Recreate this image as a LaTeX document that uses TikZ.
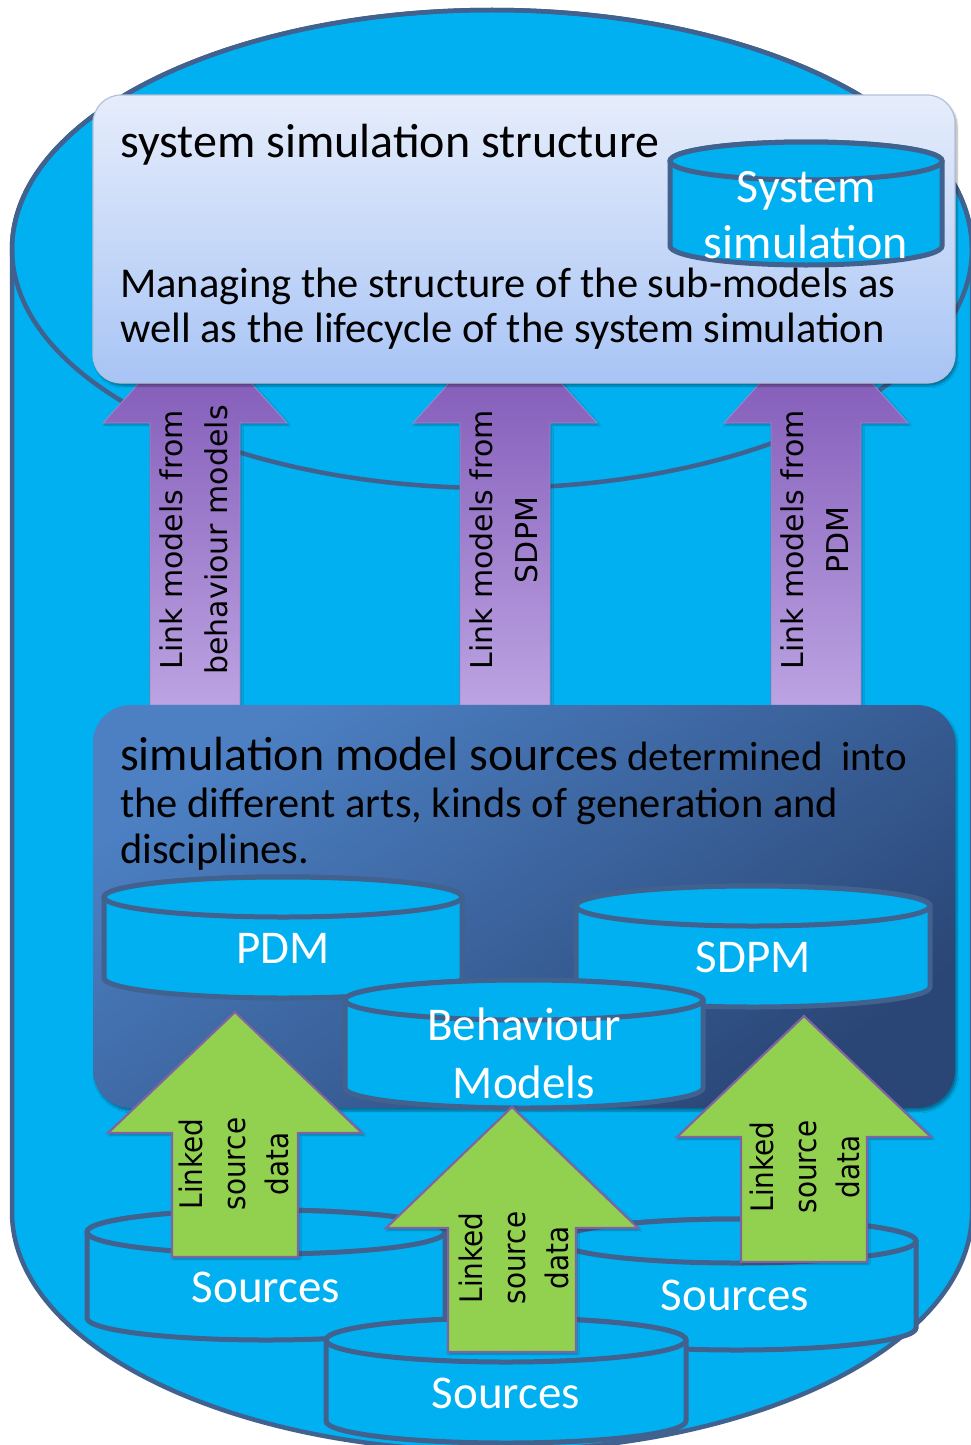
\documentclass[tikz,border=0pt]{standalone}
\usepackage{fontspec}
\setmainfont{Carlito}
\newfontfamily\labelfont{DejaVu Sans}
\newfontfamily\narrowlabelfont[FakeStretch=0.9]{DejaVu Sans}
\usetikzlibrary{shadows.blur}

\definecolor{cylfill}{HTML}{00B0F0}
\definecolor{cyledge}{HTML}{41618F}
\definecolor{boxtop}{HTML}{E6EDFB}
\definecolor{boxbot}{HTML}{A8C4F5}
\definecolor{boxedge}{HTML}{B4C1D9}
\definecolor{darktop}{HTML}{4C80C3}
\definecolor{darkbot}{HTML}{2A4676}
\definecolor{purtop}{HTML}{7B52B3}
\definecolor{purbot}{HTML}{BCA3E2}
\definecolor{arrowgreen}{HTML}{92D050}
\definecolor{greenedge}{HTML}{8064A2}

\tikzset{
  drum/.style={fill=cylfill, draw=cyledge, line width=5pt},
  drumtext/.style={text=white, font=\fontsize{47}{56}\selectfont, anchor=base, inner sep=0pt},
  softshadow/.style={blur shadow={shadow xshift=2pt, shadow yshift=-3pt, shadow blur steps=6, shadow opacity=35}},
  purplearrow/.style={top color=purtop, bottom color=purbot, draw=purtop!70!white, line width=0.8pt,
    blur shadow={shadow xshift=1.5pt, shadow yshift=-2pt, shadow blur steps=4, shadow opacity=30}},
  greenarrow/.style={fill=arrowgreen, draw=greenedge, line width=2.2pt,
    blur shadow={shadow xshift=1.5pt, shadow yshift=-2pt, shadow blur steps=4, shadow opacity=30}},
  purplelabel/.style={rotate=90, align=center, inner sep=0pt, font=\labelfont\fontsize{30}{45}\selectfont},
  greenlabel/.style={rotate=90, align=center, inner sep=0pt, font=\narrowlabelfont\fontsize{31}{43}\selectfont},
  bodytext/.style={anchor=base west, inner sep=0pt, font=\fontsize{42.5}{46}\selectfont},
}

% cylinder: centre x, top-face centre y, bottom-face centre y, x radius, y radius
\newcommand\drum[5]{%
  \path[drum] ({#1-#4},#2) -- ({#1-#4},#3)
    arc[start angle=180, end angle=0, x radius=#4, y radius=#5]
    -- ({#1+#4},#2)
    arc[start angle=0, end angle=-180, x radius=#4, y radius=#5] -- cycle;
  \path[drum] (#1,#2) ellipse[x radius=#4, y radius=#5];
}

% block arrow pointing up: style, centre x, tip y, head base y, tail y, head half width, shaft half width
\newcommand\blockarrow[7]{%
  \path[#1] (#2,#3) -- ({#2+#6},#4) -- ({#2+#7},#4) -- ({#2+#7},#5)
    -- ({#2-#7},#5) -- ({#2-#7},#4) -- ({#2-#6},#4) -- cycle;
}

\begin{document}
\begin{tikzpicture}[x=1pt, y=-1pt]
\useasboundingbox (0,0) rectangle (971,1445);
\clip (0,0) rectangle (971,1445);

% outer database
\path[fill=cylfill, draw=cyledge, line width=4.5pt]
  (12,249) -- (12,1212) arc[start angle=180, end angle=0, x radius=480, y radius=239]
  -- (972,249) arc[start angle=0, end angle=-180, x radius=480, y radius=239] -- cycle;
\draw[cyledge, line width=4.5pt] (492,249) ellipse[x radius=480, y radius=239];

% links up to the system simulation structure
\blockarrow{purplearrow}{195}{321}{423}{705}{92}{45}
\blockarrow{purplearrow}{505}{321}{423}{705}{92}{45}
\blockarrow{purplearrow}{816}{321}{423}{705}{92}{45}
\node[purplelabel] (lnkbeh) at (194,540) {Link models from\\behaviour models};
\node[purplelabel] (lnksdpm) at (504,540) {Link models from\\SDPM};
\node[purplelabel] (lnkpdm) at (815,540) {Link models from\\PDM};

% system simulation structure panel
\path[top color=boxtop, bottom color=boxbot, draw=boxedge, line width=1.2pt,
      rounded corners=28pt, softshadow] (93,95) rectangle (955,383);
\node[anchor=base west, inner sep=0pt, font=\fontsize{48}{56}\selectfont] (sstitle) at (120,157)
  {system simulation structure};
\node[bodytext] (ssline1) at (120,297) {Managing the structure of the sub-models as};
\node[bodytext] (ssline2) at (120,342) {well as the lifecycle of the system simulation};
\drum{806}{161}{246}{136}{19}
\node[drumtext, font=\fontsize{48}{56}\selectfont] (syssim1) at (806,202) {System};
\node[drumtext, font=\fontsize{48}{56}\selectfont] (syssim2) at (806,258) {simulation};

% simulation model sources panel
\path[top color=darktop, bottom color=darkbot, shading angle=35,
      rounded corners=38pt, softshadow] (93,705) rectangle (955,1108);
\node[anchor=base west, inner sep=0pt] (smline1) at (120,770)
  {\fontsize{48}{56}\selectfont simulation model sources\fontsize{41}{46}\selectfont\ determined\ \ into};
\node[bodytext] (smline2) at (120,817) {the different arts, kinds of generation and};
\node[bodytext] (smline3) at (120,863) {disciplines.};

\drum{283}{897}{978}{179}{20}
\node[drumtext] (pdm) at (283,963) {PDM};
\drum{753}{906}{987}{177}{20}
\node[drumtext] (sdpm) at (753,972) {SDPM};
\drum{524}{1000}{1088}{179}{20}
\node[drumtext] (beh1) at (524,1040) {Behaviour};
\node[drumtext] (beh2) at (524,1098) {Models};

% source databases
\drum{266}{1232}{1318}{179}{22}
\node[drumtext] (src1) at (266,1302) {Sources};
\drum{737}{1241}{1328}{179}{22}
\node[drumtext] (src2) at (735,1310) {Sources};
\drum{506}{1340}{1421}{180}{22}
\node[drumtext] (src3) at (506,1408) {Sources};

% linked source data
\blockarrow{greenarrow}{235}{1012}{1133}{1257}{127}{63}
\blockarrow{greenarrow}{512}{1107}{1228}{1352}{126}{64}
\blockarrow{greenarrow}{804}{1016}{1137}{1262}{127}{63}
\node[greenlabel] (lsd1) at (234,1164) {Linked\\source\\data};
\node[greenlabel] (lsd2) at (514,1258) {Linked\\source\\data};
\node[greenlabel] (lsd3) at (805,1167) {Linked\\source\\data};
\end{tikzpicture}
\end{document}
